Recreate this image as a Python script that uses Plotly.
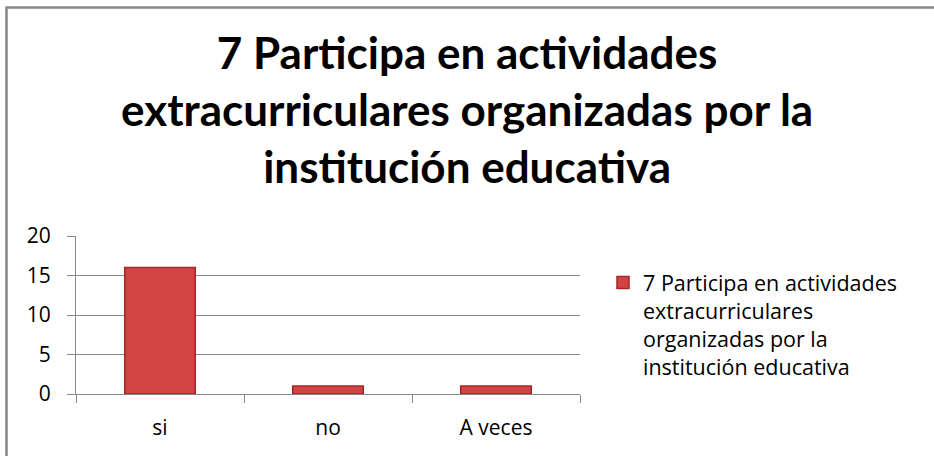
import plotly.graph_objects as go

categorias = ["si", "no", "A veces"]
valores = [16, 1, 1]
nombre_serie = "7 Participa en actividades<br>extracurriculares<br>organizadas por la<br>institución educativa"
titulo = "7 Participa en actividades<br>extracurriculares organizadas por la<br>institución educativa"
ticks_y = [0, 5, 10, 15, 20]

gris = "#878787"
# area del grafico en pixeles (izq, der, arriba, abajo)
L, R, T, B = 76, 580, 236, 394
W, H = 934, 456
ancho, alto = R - L, B - T

fig = go.Figure()
fig.add_trace(go.Bar(x=categorias, y=valores, name=nombre_serie,
                     marker=dict(color="#D44343", line=dict(color="#A02828", width=1.5)),
                     width=0.42, showlegend=True))

fig.update_layout(
    width=W, height=H,
    margin=dict(l=L, r=W - R, t=T, b=H - B),
    paper_bgcolor="white", plot_bgcolor="white",
    font=dict(family="Open Sans, sans-serif", color="black", size=21),
    showlegend=True,
    legend=dict(x=603 / W, xref="container", xanchor="left",
                y=1 - 262 / H, yref="container", yanchor="top", valign="top",
                font=dict(size=21.5), itemwidth=30, tracegroupgap=0),
    annotations=[dict(text=titulo, xref="paper", yref="paper",
                      x=(467 - L) / ancho, y=(B - 24) / alto, xanchor="center", yanchor="top",
                      showarrow=False, align="center",
                      font=dict(size=44, family="Lato, sans-serif", weight="bold"))],
    shapes=[dict(type="rect", xref="paper", yref="paper",
                 x0=(6.5 - L) / ancho, x1=(W + 10 - L) / ancho,
                 y0=(B - H - 10) / alto, y1=(B - 7.5) / alto,
                 line=dict(color=gris, width=2.5), fillcolor="rgba(0,0,0,0)", layer="below")],
)

fig.update_xaxes(showline=True, linecolor=gris, linewidth=1.3,
                 ticks="outside", ticklen=8, tickcolor=gris, tickson="boundaries",
                 ticklabelstandoff=15, showgrid=False)
fig.update_yaxes(range=[0, 20], tickvals=ticks_y, showline=True, linecolor=gris, linewidth=1.3,
                 ticks="outside", ticklen=8, tickcolor=gris,
                 showgrid=True, gridcolor=gris, gridwidth=1.3, zeroline=False,
                 ticklabelstandoff=12)

# quitar el margen del body para que el grafico quede en (0, 0)
fig.write_html("out.html", config={"displayModeBar": False},
               post_script="document.body.style.margin='0px';")
